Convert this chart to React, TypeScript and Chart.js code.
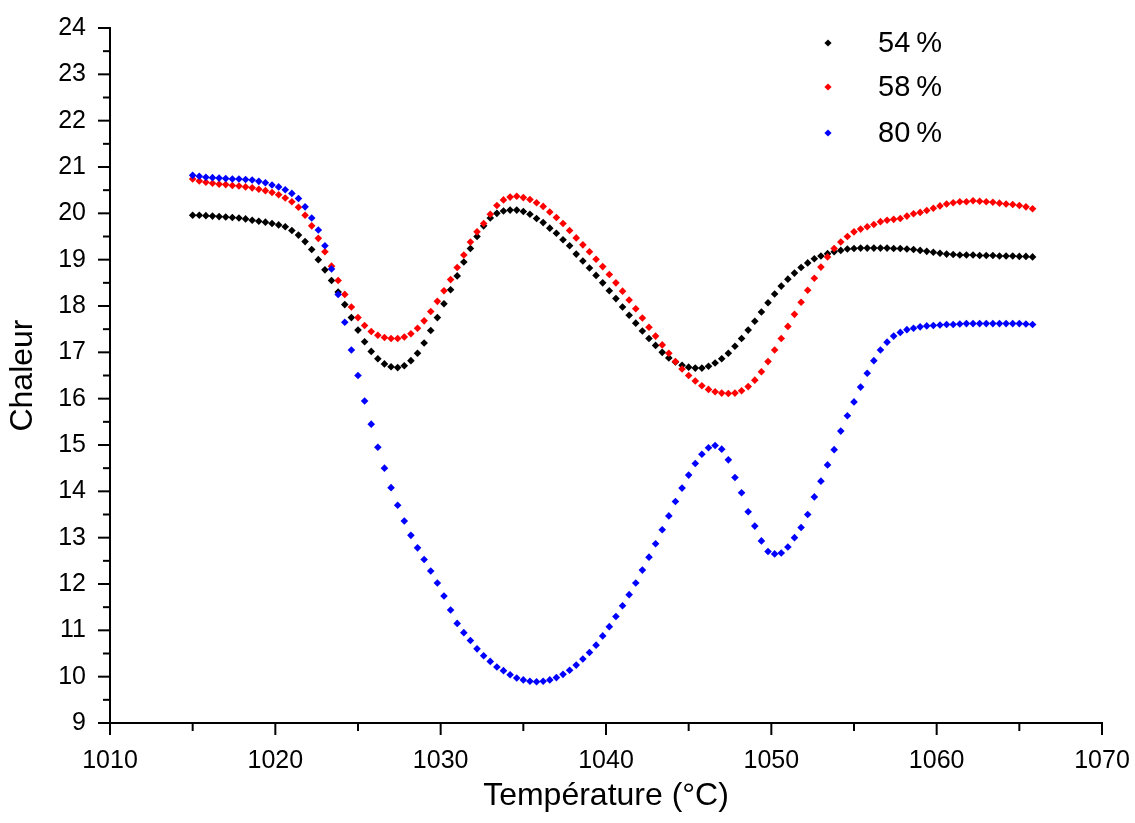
import React, { useEffect, useRef } from "react";
import { Chart, registerables } from "chart.js";

Chart.register(...registerables);

const temps = [
  1015.0, 1015.4, 1015.8, 1016.2, 1016.6, 1017.0, 1017.4, 1017.8, 1018.2, 1018.6,
  1019.0, 1019.4, 1019.8, 1020.2, 1020.6, 1021.0, 1021.4, 1021.8, 1022.2, 1022.6,
  1023.0, 1023.4, 1023.8, 1024.2, 1024.6, 1025.0, 1025.4, 1025.8, 1026.2, 1026.6,
  1027.0, 1027.4, 1027.8, 1028.2, 1028.6, 1029.0, 1029.4, 1029.8, 1030.2, 1030.6,
  1031.0, 1031.4, 1031.8, 1032.2, 1032.6, 1033.0, 1033.4, 1033.8, 1034.2, 1034.6,
  1035.0, 1035.4, 1035.8, 1036.2, 1036.6, 1037.0, 1037.4, 1037.8, 1038.2, 1038.6,
  1039.0, 1039.4, 1039.8, 1040.2, 1040.6, 1041.0, 1041.4, 1041.8, 1042.2, 1042.6,
  1043.0, 1043.4, 1043.8, 1044.2, 1044.6, 1045.0, 1045.4, 1045.8, 1046.2, 1046.6,
  1047.0, 1047.4, 1047.8, 1048.2, 1048.6, 1049.0, 1049.4, 1049.8, 1050.2, 1050.6,
  1051.0, 1051.4, 1051.8, 1052.2, 1052.6, 1053.0, 1053.4, 1053.8, 1054.2, 1054.6,
  1055.0, 1055.4, 1055.8, 1056.2, 1056.6, 1057.0, 1057.4, 1057.8, 1058.2, 1058.6,
  1059.0, 1059.4, 1059.8, 1060.2, 1060.6, 1061.0, 1061.4, 1061.8, 1062.2, 1062.6,
  1063.0, 1063.4, 1063.8, 1064.2, 1064.6, 1065.0, 1065.4, 1065.8,
];

const chaleur54 = [
  19.96, 19.96, 19.95, 19.94, 19.93, 19.92, 19.91, 19.9, 19.88, 19.85,
  19.83, 19.81, 19.78, 19.75, 19.71, 19.63, 19.53, 19.39, 19.22, 19.0,
  18.78, 18.55, 18.3, 18.03, 17.75, 17.48, 17.23, 17.02, 16.86, 16.75,
  16.69, 16.67, 16.71, 16.82, 16.98, 17.2, 17.47, 17.75, 18.05, 18.35,
  18.65, 18.95, 19.24, 19.5, 19.73, 19.9, 20.0, 20.05, 20.07, 20.07,
  20.04, 19.98, 19.89, 19.8, 19.68, 19.57, 19.43, 19.3, 19.12, 18.97,
  18.82, 18.66, 18.5, 18.33, 18.16, 17.98, 17.8, 17.63, 17.46, 17.3,
  17.15, 17.0, 16.88, 16.79, 16.72, 16.68, 16.66, 16.66, 16.7, 16.77,
  16.86, 16.98, 17.13, 17.3, 17.48, 17.67, 17.87, 18.07, 18.26, 18.43,
  18.58, 18.71, 18.83, 18.93, 19.02, 19.08, 19.13, 19.17, 19.2, 19.23,
  19.24, 19.25, 19.25, 19.25, 19.25, 19.25, 19.24, 19.24, 19.23, 19.22,
  19.2, 19.18, 19.16, 19.14, 19.12, 19.11, 19.1, 19.1, 19.1, 19.09,
  19.09, 19.09, 19.08, 19.08, 19.08, 19.07, 19.07, 19.06,
];

const chaleur58 = [
  20.74, 20.7, 20.67, 20.65, 20.63, 20.62, 20.6, 20.59, 20.57, 20.55,
  20.52, 20.49, 20.45, 20.4, 20.33, 20.25, 20.13, 19.96, 19.73, 19.46,
  19.17, 18.86, 18.55, 18.25, 17.98, 17.75, 17.58, 17.45, 17.37, 17.32,
  17.3, 17.3, 17.33, 17.4, 17.52, 17.68, 17.88, 18.1, 18.33, 18.57,
  18.83, 19.1, 19.38, 19.6, 19.78, 19.98, 20.17, 20.29, 20.35, 20.37,
  20.34, 20.3, 20.23, 20.15, 20.03, 19.91, 19.78, 19.63, 19.47, 19.32,
  19.17, 19.01, 18.85, 18.68, 18.5, 18.32, 18.13, 17.94, 17.74, 17.54,
  17.35, 17.16, 16.98, 16.8, 16.64, 16.5, 16.38, 16.28, 16.2, 16.15,
  16.12, 16.11, 16.12, 16.17, 16.26, 16.4, 16.58, 16.8, 17.05, 17.3,
  17.56, 17.82, 18.08, 18.34, 18.6, 18.84, 19.06, 19.24, 19.38, 19.5,
  19.6, 19.66, 19.71, 19.76, 19.82, 19.85, 19.87, 19.89, 19.94, 19.99,
  20.02, 20.06, 20.11, 20.16, 20.2, 20.23, 20.25, 20.25, 20.27, 20.26,
  20.25, 20.24, 20.22, 20.2, 20.19, 20.17, 20.14, 20.1,
];

const chaleur80 = [
  20.82, 20.8, 20.78, 20.77, 20.76, 20.75, 20.74, 20.74, 20.73, 20.72,
  20.69, 20.66, 20.61, 20.57, 20.51, 20.43, 20.32, 20.14, 19.9, 19.64,
  19.3, 18.8, 18.25, 17.65, 17.05, 16.5, 15.95, 15.45, 14.95, 14.5,
  14.08, 13.7, 13.36, 13.05, 12.78, 12.53, 12.28, 12.02, 11.74, 11.44,
  11.15, 10.95, 10.78, 10.6, 10.45, 10.33, 10.21, 10.13, 10.04, 9.97,
  9.93, 9.9, 9.89, 9.9, 9.93, 9.98, 10.05, 10.14, 10.25, 10.38,
  10.52, 10.68, 10.88, 11.08, 11.3, 11.53, 11.77, 12.02, 12.3, 12.58,
  12.87, 13.17, 13.47, 13.78, 14.07, 14.35, 14.6, 14.8, 14.94, 14.99,
  14.91, 14.68, 14.3, 13.97, 13.56, 13.25, 12.93, 12.7, 12.65, 12.67,
  12.8, 13.0, 13.22, 13.5, 13.88, 14.22, 14.57, 14.9, 15.3, 15.63,
  15.93, 16.25, 16.55, 16.82, 17.05, 17.22, 17.35, 17.43, 17.49, 17.52,
  17.55, 17.57, 17.58, 17.59, 17.6, 17.6, 17.61, 17.62, 17.62, 17.62,
  17.62, 17.62, 17.62, 17.62, 17.62, 17.62, 17.61, 17.6,
];

const seriesLabels = ["54%", "58%", "80%"];
const seriesColors = ["#000000", "#ff0000", "#0000ff"];
const xTitle = "Température (°C)";
const yTitle = "Chaleur";
const FONT = 'Arial, "Liberation Sans", sans-serif';

export default function App() {
  const ref = useRef<HTMLCanvasElement | null>(null);

  useEffect(() => {
    const canvas = ref.current;
    if (!canvas) return;
    const series = [chaleur54, chaleur58, chaleur80];
    const datasets = series.map((vals, i) => ({
      label: seriesLabels[i],
      data: temps.map((t, j) => ({ x: t, y: vals[j] })),
      pointStyle: "rectRot" as const,
      pointRadius: 3.8,
      pointBackgroundColor: seriesColors[i],
      pointBorderColor: seriesColors[i],
      pointBorderWidth: 0,
      showLine: false,
      order: 2 - i,
    }));

    const decor = {
      id: "decor",
      afterDraw(chart: any) {
        const c = chart.ctx as CanvasRenderingContext2D;
        const xs = chart.scales.x;
        const ys = chart.scales.y;
        const area = chart.chartArea;
        c.save();
        c.strokeStyle = "#000";
        c.lineWidth = 2;
        // y ticks (major + minor)
        for (let k = ys.min * 2; k <= ys.max * 2; k++) {
          const v = k / 2;
          const py = ys.getPixelForValue(v);
          const len = k % 2 === 0 ? 12 : 7;
          c.beginPath();
          c.moveTo(area.left - len, py);
          c.lineTo(area.left, py);
          c.stroke();
        }
        // x ticks (major + minor)
        for (let v = xs.min; v <= xs.max; v += 5) {
          const px = xs.getPixelForValue(v);
          const len = (v - xs.min) % 10 === 0 ? 12 : 8;
          c.beginPath();
          c.moveTo(px, area.bottom);
          c.lineTo(px, area.bottom + len);
          c.stroke();
        }
        // axis titles
        c.fillStyle = "#000";
        c.font = `32px ${FONT}`;
        c.textAlign = "center";
        c.textBaseline = "middle";
        c.fillText(xTitle, (area.left + area.right) / 2, 796);
        c.save();
        c.translate(23, (area.top + area.bottom) / 2);
        c.rotate(-Math.PI / 2);
        c.fillText(yTitle, 0, 0);
        c.restore();
        // legend
        const legendY = [43, 87, 133];
        c.textAlign = "left";
        c.font = `29px ${FONT}`;
        seriesLabels.forEach((lab, i) => {
          const cx = 828;
          const cy = legendY[i];
          c.fillStyle = seriesColors[i];
          c.beginPath();
          c.moveTo(cx, cy - 3.6);
          c.lineTo(cx + 3.6, cy);
          c.lineTo(cx, cy + 3.6);
          c.lineTo(cx - 3.6, cy);
          c.closePath();
          c.fill();
          c.fillStyle = "#000";
          const num = lab.replace("%", "");
          c.fillText(num, 878, cy + 1);
          const w = c.measureText(num).width;
          c.fillText("%", 878 + w + 6, cy + 1);
        });
        c.restore();
      },
    };

    const chart = new Chart(canvas, {
      type: "scatter",
      data: { datasets },
      options: {
        responsive: false,
        animation: false,
        layout: { padding: { top: 28, right: 33, left: 0, bottom: 0 } },
        plugins: { legend: { display: false }, tooltip: { enabled: false } },
        scales: {
          x: {
            type: "linear",
            min: 1010,
            max: 1070,
            afterFit: (s: any) => {
              s.height = 100;
              s.paddingLeft = 0;
              s.paddingRight = 0;
            },
            ticks: {
              stepSize: 10,
              color: "#000",
              padding: 23,
              maxRotation: 0,
              font: { family: FONT, size: 25 },
              callback: (v: any) => String(v),
            },
            grid: { display: false, drawTicks: false },
            border: { display: true, color: "#000", width: 2 },
          },
          y: {
            type: "linear",
            min: 9,
            max: 24,
            afterFit: (s: any) => {
              s.width = 110;
              s.paddingTop = 0;
              s.paddingBottom = 0;
            },
            ticks: {
              stepSize: 1,
              color: "#000",
              padding: 24,
              font: { family: FONT, size: 25 },
              callback: (v: any) => String(v),
            },
            grid: { display: false, drawTicks: false },
            border: { display: true, color: "#000", width: 2 },
          },
        },
      },
      plugins: [decor],
    });
    return () => chart.destroy();
  }, []);

  return (
    <div style={{ position: "absolute", left: 0, top: 0, width: 1135, height: 823, background: "#fff" }}>
      <canvas ref={ref} width={1135} height={823} style={{ display: "block" }} />
    </div>
  );
}
